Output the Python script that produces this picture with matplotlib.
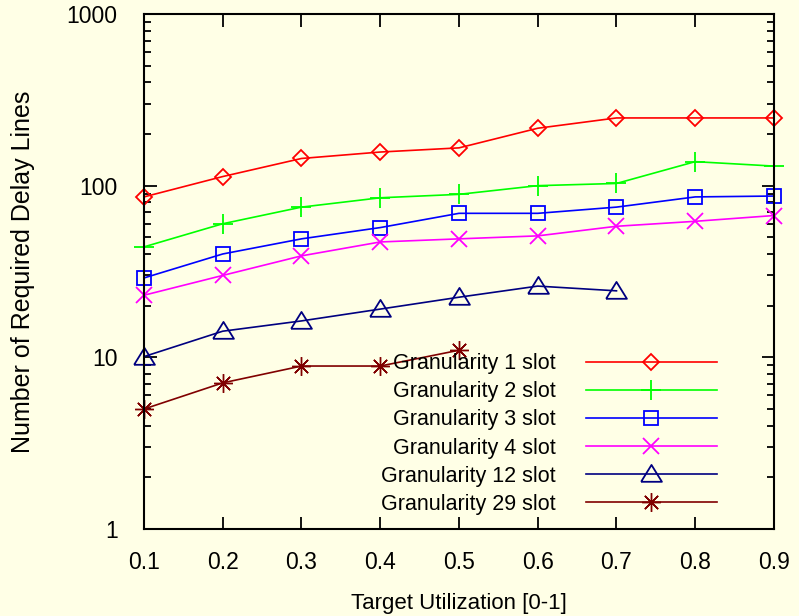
import numpy as np
import matplotlib
matplotlib.use('Agg')
import matplotlib.pyplot as plt
from matplotlib.ticker import FixedLocator, NullFormatter, LogLocator

plt.rcParams['font.family'] = ['Liberation Sans', 'DejaVu Sans']

BG = '#FFFFE6'

util = [0.1, 0.2, 0.3, 0.4, 0.5, 0.6, 0.7, 0.8, 0.9]
g1 = [86, 113, 144, 157, 166, 216, 248, 248, 248]
g2 = [44, 60, 75, 85, 89, 100, 103, 138, 130]
g3 = [29, 40, 49, 57, 69, 69, 75, 86, 87]
g4 = [23, 30, 39, 47, 49, 51, 58, 62, 67]
g12 = [10.1, 14.2, 16.3, 19.1, 22.4, 26, 24.4]
g29 = [5.0, 7.1, 8.9, 8.9, 11.0]

labels = ['Granularity 1 slot', 'Granularity 2 slot', 'Granularity 3 slot',
          'Granularity 4 slot', 'Granularity 12 slot', 'Granularity 29 slot']
xticks = [0.1, 0.2, 0.3, 0.4, 0.5, 0.6, 0.7, 0.8, 0.9]
yticks = [1, 10, 100, 1000]

# wide, flat open triangle like gnuplot's
tri = [(-0.6, -0.42), (0.6, -0.42), (0, 0.55), (-0.6, -0.42)]

fig = plt.figure(figsize=(7.99, 6.16), dpi=100, facecolor=BG)
ax = fig.add_axes([0.1802, 0.1412, 0.7885, 0.8361])
ax.set_facecolor(BG)

series = [
    (util, g1, '#FF0000', 'D', 8.5, 1.3),
    (util, g2, '#00FF00', '+', 14, 1.3),
    (util, g3, '#0000FF', 's', 10, 1.3),
    (util, g4, '#FF00FF', 'x', 11.5, 1.3),
    (util[:len(g12)], g12, '#000080', tri, 15, 1.3),
    (util[:len(g29)], g29, '#800000', (8, 2, 0), 13.5, 1.0),
]
for (xs, ys, c, m, ms, mw), lab in zip(series, labels):
    ax.plot(xs, ys, color=c, lw=1.2, marker=m, ms=ms, mfc='none', mec=c,
            mew=mw, label=lab, clip_on=False)

ax.set_yscale('log')
ax.set_xlim(0.1, 0.9)
ax.set_ylim(1, 1000)

ax.xaxis.set_major_locator(FixedLocator(xticks))
ax.set_xticklabels([str(t) for t in xticks])
ax.yaxis.set_major_locator(FixedLocator(yticks))
ax.set_yticklabels([str(t) for t in yticks])
ax.yaxis.set_minor_locator(LogLocator(base=10, subs=np.arange(2, 10)))
ax.yaxis.set_minor_formatter(NullFormatter())

ax.tick_params(which='both', direction='in', top=True, right=True,
               width=1.3, colors='black', labelsize=16.5)
ax.tick_params(which='major', length=9)
ax.tick_params(which='minor', length=4.7)
ax.tick_params(axis='x', pad=16)
ax.tick_params(axis='y', pad=19)
for s in ax.spines.values():
    s.set_linewidth(1.5)

ax.set_xlabel('Target Utilization [0-1]', fontsize=16)
ax.xaxis.set_label_coords(0.5, -0.125)
ax.set_ylabel('Number of Required Delay Lines', fontsize=18)
ax.yaxis.set_label_coords(-0.173, 0.5)

leg = ax.legend(loc='center right', bbox_to_anchor=(0.9095, 0.1845),
                frameon=False, markerfirst=False, numpoints=1, fontsize=15.5,
                handlelength=6.1, handletextpad=1.4, labelspacing=0.33,
                borderpad=0, borderaxespad=0)

fig.savefig('out.png', dpi=100, facecolor=BG)
